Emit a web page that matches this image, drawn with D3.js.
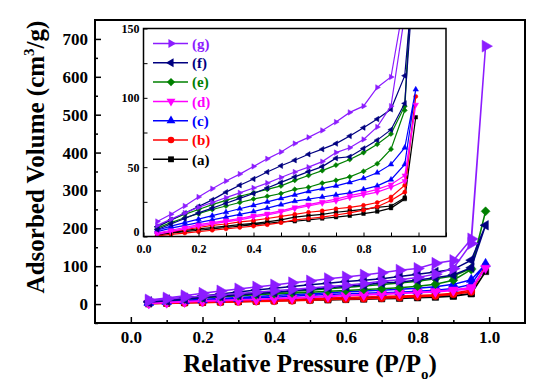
<!DOCTYPE html>
<html><head><meta charset="utf-8">
<script src="https://cdn.jsdelivr.net/npm/d3@7"></script>
<style>
html,body{margin:0;padding:0;background:#fff;}
svg text{font-family:"Liberation Serif","Times New Roman",serif;font-weight:bold;}
</style></head>
<body><svg id="c" width="554" height="388"></svg>
<script>
// Relative pressure points (adsorption 0.05..0.95 then 0.99; desorption 0.95..0.05)
const pLow = [0.05,0.1,0.15,0.2,0.25,0.3,0.35,0.4,0.45,0.5,0.55,0.6,0.65,0.7,0.75,0.8,0.85,0.9,0.95];
const pTop = 0.99;
// series labels
const labels = ["(a)","(b)","(c)","(d)","(e)","(f)","(g)"];
const colors = ["#000000","#ff0000","#0000ff","#ff00ff","#008000","#000080","#8c1cff"];
// adsorption branch (values at pLow) and value at 0.99
const aAds = [1,2.5,3.5,4.5,5.5,6.5,7.5,8.5,9.5,10.5,11,12,13,14,15,16.5,18,20.5,27];
const aDes = [1.5,3,4.5,5.5,6.5,7.5,8.5,9.5,10.5,12,14,15,16,17.5,18.5,19.5,21,22,28];
const aTop = 86;
const bAds = [0.5,1.5,2.5,3.5,4.5,5.5,6.5,7.5,8.5,10,12,13,14,15.5,17,19,21.5,26,32];
const bDes = [2,3.5,5,6.5,8,9,10.5,11.5,13,14.5,16,17.5,18.5,20,21,22.5,24.5,28.5,37];
const bTop = 101;
const cAds = [3.5,6,8,10,12,14,16,18,20.5,23,25.5,27,28.5,30,31.5,34,36.5,41,52];
const cDes = [4.5,7.5,10,12.5,15,17.5,20,22.5,25,27.5,30,32.5,34.5,36.5,39,42,46,52,64];
const cTop = 106;
const dAds = [1.5,3.5,5.5,7.5,9,10.5,12,14,15.5,17.5,20,22,24,25.5,28,30,32,35.5,40];
const dDes = [2.5,4.5,6.5,8.5,10,11.5,13,15,16.5,18.5,21,23,25,27,29.5,31.5,34,37.5,44];
const dTop = 95;
const eAds = [6,10,13.5,16.5,19.5,22,24.5,27,29,31,34,35.5,38.5,40.5,43,47,52.5,63,91];
const eDes = [7,12,16,19.5,23,26,29,31.5,34,36.5,40.5,44,47.5,51.5,55.5,60.5,66.5,74,94];
const eTop = 245;
const fAds = [5,9,13,17,20.5,24,27.5,31,35,39,43,46.8,50.4,56.5,57.5,63.5,69.5,77,96];
const fDes = [7,12,16.8,21.6,26.4,32,37,41.5,46.5,51,55,59.3,63,67,72.5,78.5,84.7,91.7,116];
const fTop = 208;
const gAds = [8,12.5,17,21,24.5,28,31.5,35,38.5,42.5,46.5,50,54,60.5,64,70,79,94,160];
const gDes = [10.8,16,22,28.5,34.5,40,45,50.5,56,61,67,71.5,76.5,82.5,89.5,94,107.5,115,172];
const gTop = 681;
// tick values
const mainXTicks = [0,0.2,0.4,0.6,0.8,1.0];
const mainYTicks = [0,100,200,300,400,500,600,700];
const insetXTicks = [0,0.2,0.4,0.6,0.8,1.0];
const insetYTicks = [0,50,100,150];

const adsAll = [aAds,bAds,cAds,dAds,eAds,fAds,gAds];
const desAll = [aDes,bDes,cDes,dDes,eDes,fDes,gDes];
const tops = [aTop,bTop,cTop,dTop,eTop,fTop,gTop];
const markers = [
  {t:d3.symbolSquare, r:0},
  {t:d3.symbolCircle, r:0},
  {t:d3.symbolTriangle, r:0},
  {t:d3.symbolTriangle, r:180},
  {t:d3.symbolSquare, r:45},
  {t:d3.symbolTriangle, r:-90},
  {t:d3.symbolTriangle, r:90}
];
const series = labels.map((l,i)=>{
  const pts = pLow.map((p,j)=>[p,adsAll[i][j]]);
  pts.push([pTop,tops[i]]);
  for(let j=pLow.length-1;j>=0;j--) pts.push([pLow[j],desAll[i][j]]);
  return {label:l,color:colors[i],marker:markers[i],pts};
});

const svg = d3.select("#c");
svg.append("rect").attr("width",554).attr("height",388).attr("fill","#fff");

// ---------- main chart ----------
const M = {l:95,t:20,r:525,b:323};
const x = d3.scaleLinear([-0.1,1.1],[M.l,M.r]);
const y = d3.scaleLinear([-50,750],[M.b,M.t]);

function drawSeries(g, xs, ys, lw, msize, gsize){
  series.forEach((s,i)=>{
    g.append("path").datum(s.pts)
      .attr("d",d3.line().x(d=>xs(d[0])).y(d=>ys(d[1])))
      .attr("fill","none").attr("stroke",s.color).attr("stroke-width",lw);
    const sym = d3.symbol().type(s.marker.t).size(i===6?gsize:msize);
    g.selectAll(null).data(s.pts).enter().append("path")
      .attr("d",sym)
      .attr("transform",d=>`translate(${xs(d[0])},${ys(d[1])}) rotate(${s.marker.r})`)
      .attr("fill",s.color).attr("stroke",s.color).attr("stroke-width",0.5);
  });
}

svg.append("defs").append("clipPath").attr("id","mainclip")
  .append("rect").attr("x",M.l).attr("y",M.t).attr("width",M.r-M.l).attr("height",M.b-M.t);
drawSeries(svg.append("g").attr("clip-path","url(#mainclip)"), x, y, 1.5, 40, 62);

// axes
const xAx = svg.append("g").attr("transform",`translate(0,${M.b})`)
  .call(d3.axisBottom(x).tickValues(mainXTicks).tickFormat(d3.format(".1f")).tickSize(-6).tickPadding(8));
svg.append("g").attr("transform",`translate(0,${M.b})`)
  .call(d3.axisBottom(x).tickValues([0.1,0.3,0.5,0.7,0.9]).tickFormat("").tickSize(-3));
const yAx = svg.append("g").attr("transform",`translate(${M.l},0)`)
  .call(d3.axisLeft(y).tickValues(mainYTicks).tickSize(-6).tickPadding(7));
svg.append("g").attr("transform",`translate(${M.l},0)`)
  .call(d3.axisLeft(y).tickValues([-50,50,150,250,350,450,550,650]).tickFormat("").tickSize(-3));
svg.selectAll(".domain").remove();
svg.selectAll(".tick line").attr("stroke","#000").attr("stroke-width",1.5);
xAx.selectAll("text").attr("font-size",17).attr("fill","#000");
yAx.selectAll("text").attr("font-size",17).attr("fill","#000");
svg.append("rect").attr("x",M.l).attr("y",M.t).attr("width",M.r-M.l).attr("height",M.b-M.t)
  .attr("fill","none").attr("stroke","#000").attr("stroke-width",2);

// axis titles
const xt = svg.append("text").attr("x",(M.l+M.r)/2).attr("y",372).attr("text-anchor","middle")
  .attr("font-size",25).attr("fill","#000");
xt.append("tspan").text("Relative Pressure (P/P");
xt.append("tspan").text("o").attr("font-size",15).attr("dy",7);
xt.append("tspan").text(")").attr("dy",-7);
const yt = svg.append("text").attr("transform","translate(44,157) rotate(-90)").attr("text-anchor","middle")
  .attr("font-size",25).attr("fill","#000");
yt.append("tspan").text("Adsorbed Volume (cm");
yt.append("tspan").text("3").attr("font-size",15).attr("dy",-10);
yt.append("tspan").text("/g)").attr("dy",10);

// ---------- inset ----------
const I = {l:143.5,t:28.5,r:446,b:236.5};
const xi = d3.scaleLinear([0,1.1],[I.l,I.r]);
const yi = d3.scaleLinear([0,150],[I.b,I.t]);
svg.append("rect").attr("x",I.l).attr("y",I.t).attr("width",I.r-I.l).attr("height",I.b-I.t).attr("fill","#fff");
svg.select("defs").append("clipPath").attr("id","insetclip")
  .append("rect").attr("x",I.l).attr("y",I.t).attr("width",I.r-I.l).attr("height",I.b-I.t);
drawSeries(svg.append("g").attr("clip-path","url(#insetclip)"), xi, yi, 1.2, 13, 13);

const ig = svg.append("g");
const ixAx = ig.append("g").attr("transform",`translate(0,${I.b})`)
  .call(d3.axisBottom(xi).tickValues(insetXTicks).tickFormat(d3.format(".1f")).tickSize(-4).tickPadding(8));
ig.append("g").attr("transform",`translate(0,${I.b})`)
  .call(d3.axisBottom(xi).tickValues([0.1,0.3,0.5,0.7,0.9,1.1]).tickFormat("").tickSize(-4));
const iyAx = ig.append("g").attr("transform",`translate(${I.l},0)`)
  .call(d3.axisLeft(yi).tickValues(insetYTicks).tickSize(-4).tickPadding(4));
ig.append("g").attr("transform",`translate(${I.l},0)`)
  .call(d3.axisLeft(yi).tickValues([25,75,125]).tickFormat("").tickSize(-4));
ig.selectAll(".domain").remove();
ig.selectAll(".tick line").attr("stroke","#000").attr("stroke-width",1);
ixAx.selectAll("text").attr("font-size",12).attr("fill","#000");
iyAx.selectAll("text").attr("font-size",12).attr("fill","#000")
  .attr("dy",d=>d===0?"-0.1em":"0.32em");
svg.append("rect").attr("x",I.l).attr("y",I.t).attr("width",I.r-I.l).attr("height",I.b-I.t)
  .attr("fill","none").attr("stroke","#000").attr("stroke-width",1.5);

// legend
const leg = svg.append("g");
series.slice().reverse().forEach((s,k)=>{
  const ly = 43.5 + k*19.3;
  leg.append("line").attr("x1",153).attr("x2",188).attr("y1",ly).attr("y2",ly)
    .attr("stroke",s.color).attr("stroke-width",1.5);
  leg.append("path").attr("d",d3.symbol().type(s.marker.t).size(34))
    .attr("transform",`translate(171,${ly}) rotate(${s.marker.r})`).attr("fill",s.color);
  leg.append("text").attr("x",192).attr("y",ly).attr("dy","0.35em").attr("font-size",15)
    .attr("fill",s.color).text(s.label);
});
</script></body></html>
